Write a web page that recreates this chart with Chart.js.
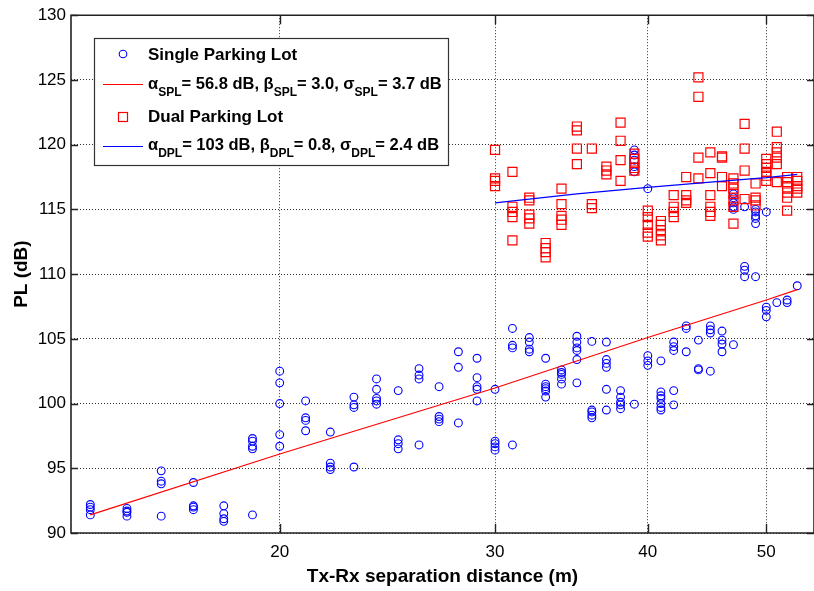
<!DOCTYPE html>
<html>
<head>
<meta charset="utf-8">
<title>Path loss vs. Tx-Rx separation distance</title>
<script src="https://cdn.jsdelivr.net/npm/chart.js@4.4.1/dist/chart.umd.min.js"></script>
<style>
  html, body { margin: 0; padding: 0; background: #ffffff; }
  #wrap { width: 814px; height: 591px; }
</style>
</head>
<body>
<div id="wrap"><canvas id="plChart" width="814" height="591"></canvas></div>
<script>
// Single parking lot: measured path loss (dB), grouped by Tx-Rx distance (m)
const singleDistances = [14, 15, 16, 17, 18, 19, 20, 21, 22, 23, 24, 25, 26, 27, 28, 29, 30,
  31, 32, 33, 34, 35, 36, 37, 38, 39, 40, 41, 42, 43, 44, 45, 46, 47, 48, 49, 50, 51, 52, 53];
const singleLoss = [
  [92.2, 92.0, 91.8, 91.4],
  [91.9, 91.7, 91.6, 91.3],
  [94.8, 94.0, 93.8, 91.3],
  [93.9, 92.1, 92.0, 91.8],
  [92.1, 91.5, 91.1, 90.9],
  [97.3, 97.1, 96.7, 96.5, 91.4],
  [102.5, 101.6, 100.0, 97.6, 96.7],
  [100.2, 98.9, 98.7, 97.9],
  [97.8, 95.4, 95.1, 94.9],
  [100.5, 99.9, 99.7, 95.1],
  [101.9, 101.1, 100.4, 100.2, 99.95],
  [101.0, 97.2, 96.9, 96.5],
  [102.7, 102.2, 101.9, 96.8],
  [101.3, 99.0, 98.8, 98.6],
  [104.0, 102.8, 98.5],
  [103.5, 102.0, 101.3, 101.1, 100.2],
  [101.1, 97.1, 96.9, 96.65, 96.4],
  [105.8, 104.5, 104.3, 96.8],
  [105.1, 104.75, 104.2, 104.0],
  [103.5, 101.5, 101.3, 101.15, 100.97, 100.5],
  [102.6, 102.4, 102.25, 101.9, 101.5],
  [105.2, 104.75, 104.3, 104.1, 103.4, 101.6],
  [104.8, 99.5, 99.35, 99.1, 98.9],
  [104.75, 103.4, 103.1, 102.8, 101.1, 99.5],
  [101.0, 100.5, 100.1, 99.9, 99.6],
  [99.95, 119.6, 119.2, 118.8, 118.3, 117.9],
  [103.7, 103.3, 102.95, 116.6],
  [103.3, 100.9, 100.6, 100.4, 100.0, 99.7, 99.5],
  [104.75, 104.4, 104.1, 101.0, 99.9],
  [106.0, 105.8, 104.0],
  [104.9, 102.7, 102.6],
  [106.0, 105.7, 105.45, 102.5],
  [105.6, 104.9, 104.6, 104.0],
  [104.55, 116.2, 115.9, 115.5, 115.2, 115.0],
  [110.6, 110.3, 109.8, 115.2],
  [109.8, 115.0, 114.8, 114.5, 114.3, 113.9],
  [107.45, 107.2, 106.7, 114.8],
  [107.8],
  [108.0, 107.8],
  [109.1]
];

// Dual parking lot: measured path loss (dB), grouped by Tx-Rx distance (m)
const dualDistances = [30, 31, 32, 33, 34, 35, 36, 37, 38, 39, 40, 41,
  42, 43, 44, 45, 46, 47, 48, 49, 50, 51, 52, 53];
const dualLoss = [
  [119.6, 117.4, 117.2, 116.8],
  [117.9, 115.2, 114.8, 114.4, 112.6],
  [115.9, 115.7, 114.6, 114.3, 113.9],
  [112.4, 112.0, 111.7, 111.3],
  [116.6, 115.4, 114.5, 114.2, 113.8],
  [121.4, 121.1, 119.7, 118.5],
  [119.7, 115.4, 115.1],
  [118.3, 118.0, 117.7],
  [121.7, 120.3, 118.8, 117.2],
  [119.3, 118.9, 118.6, 118.2, 118.0],
  [114.9, 114.4, 113.8, 113.2, 112.9],
  [114.1, 113.8, 113.4, 113.0, 112.6],
  [116.1, 115.2, 114.8, 114.4],
  [117.5, 116.1, 115.7, 115.5],
  [125.2, 123.7, 119.0, 117.4],
  [119.4, 117.8, 116.1, 115.2, 114.8, 114.5],
  [119.1, 119.0, 117.5, 116.8],
  [117.4, 117.0, 116.6, 116.2, 115.7, 115.2, 113.9],
  [121.6, 119.7, 118.0, 115.8],
  [117.0, 115.9, 115.7, 115.3],
  [118.9, 118.5, 118.2, 117.9, 117.6, 117.2],
  [121.0, 119.8, 119.4, 119.0, 118.5, 117.1],
  [117.5, 117.1, 116.7, 116.3, 115.9, 114.9],
  [117.5, 117.2, 116.8, 116.6, 116.3]
];

// Fitted path-loss lines
const splFitDistances = [14, 20, 30, 40, 50, 53];
const splFitLoss = [91.4, 96.1, 101.2, 105.1, 108.0, 108.8];
const dplFitDistances = [30, 35, 40, 45, 50, 53];
const dplFitLoss = [115.5, 116.2, 116.7, 117.1, 117.45, 117.7];

// Axes
const xTicks = [20, 30, 40, 50];
const yTicks = [90, 95, 100, 105, 110, 115, 120, 125, 130];

// Legend text
const seriesNames = ['Single Parking Lot', 'Dual Parking Lot'];
const fitSymbols = ['α', 'β', 'σ'];
const splSub = 'SPL';
const dplSub = 'DPL';
const splFitValues = ['56.8 dB', '3.0', '3.7 dB'];
const dplFitValues = ['103 dB', '0.8', '2.4 dB'];

const BLUE = 'rgb(0,0,255)';
const RED = 'rgb(255,0,0)';
const FONT = '"Liberation Sans", Arial, Helvetica, sans-serif';

function toPoints(distances, loss) {
  return distances.flatMap((d, i) => loss[i].map(v => ({ x: d, y: v })));
}
function toLine(distances, loss) {
  return distances.map((d, i) => ({ x: d, y: loss[i] }));
}

// Fit caption as text runs: [text, isSubscript]
function fitRuns(sub, values) {
  const runs = [];
  fitSymbols.forEach((s, i) => {
    runs.push([s, false]);
    runs.push([sub, true]);
    runs.push(['= ' + values[i] + (i < fitSymbols.length - 1 ? ', ' : ''), false]);
  });
  return runs;
}

function drawRuns(ctx, runs, x, y, mainFont, subFont) {
  ctx.fillStyle = '#000';
  let cx = x;
  runs.forEach(([t, isSub]) => {
    ctx.font = isSub ? subFont : mainFont;
    ctx.fillText(t, cx, isSub ? y + 7 : y);
    cx += ctx.measureText(t).width;
  });
}

// Frame, inward tick marks and the boxed legend
const framePlugin = {
  id: 'frameAndLegend',
  afterDraw(chart) {
    const { ctx, chartArea: a, scales } = chart;
    const xs = scales.x, ys = scales.y;
    ctx.save();

    // box
    ctx.strokeStyle = '#222';
    ctx.lineWidth = 1.6;
    ctx.beginPath();
    ctx.moveTo(a.left, a.top); ctx.lineTo(a.right, a.top);
    ctx.lineTo(a.right, a.bottom); ctx.lineTo(a.left, a.bottom);
    ctx.closePath();
    ctx.stroke();

    // inward ticks
    ctx.lineWidth = 1.4;
    ctx.beginPath();
    xTicks.forEach(v => {
      const px = Math.round(xs.getPixelForValue(v)) + 0.5;
      ctx.moveTo(px, a.bottom); ctx.lineTo(px, a.bottom - 9);
      ctx.moveTo(px, a.top); ctx.lineTo(px, a.top + 9);
    });
    yTicks.forEach(v => {
      const py = Math.round(ys.getPixelForValue(v)) + 0.5;
      ctx.moveTo(a.left, py); ctx.lineTo(a.left + 7, py);
      ctx.moveTo(a.right, py); ctx.lineTo(a.right - 7, py);
    });
    ctx.stroke();

    // legend box
    const bx = 94.5, by = 38.5, bw = 354, bh = 127;
    ctx.fillStyle = '#fff';
    ctx.fillRect(bx, by, bw, bh);
    ctx.strokeStyle = '#333';
    ctx.lineWidth = 1.2;
    ctx.strokeRect(bx, by, bw, bh);

    const markX = 123, textX = 148;
    const nameFont = 'bold 17px ' + FONT;
    const mainFont = 'bold 16.5px ' + FONT;
    const subFont = 'bold 12px ' + FONT;
    ctx.textBaseline = 'alphabetic';
    ctx.textAlign = 'left';
    ctx.fillStyle = '#000';

    // row 1: circle marker
    ctx.strokeStyle = BLUE; ctx.lineWidth = 1.1;
    ctx.beginPath(); ctx.arc(markX, 54, 3.8, 0, Math.PI * 2); ctx.stroke();
    ctx.font = nameFont;
    ctx.fillText(chart.data.datasets[0].label, textX, 60);

    // row 2: red fit line
    ctx.strokeStyle = RED; ctx.lineWidth = 1.2;
    ctx.beginPath(); ctx.moveTo(103, 84.5); ctx.lineTo(143, 84.5); ctx.stroke();
    drawRuns(ctx, fitRuns(splSub, splFitValues), textX, 89, mainFont, subFont);

    // row 3: square marker
    ctx.strokeStyle = RED; ctx.lineWidth = 1.2;
    ctx.strokeRect(markX - 4.5, 112.5, 9, 9);
    ctx.font = nameFont; ctx.fillStyle = '#000';
    ctx.fillText(chart.data.datasets[2].label, textX, 122);

    // row 4: blue fit line
    ctx.strokeStyle = BLUE; ctx.lineWidth = 1.2;
    ctx.beginPath(); ctx.moveTo(103, 146.5); ctx.lineTo(143, 146.5); ctx.stroke();
    drawRuns(ctx, fitRuns(dplSub, dplFitValues), textX, 150, mainFont, subFont);

    ctx.restore();
  }
};

const tickFont = { family: FONT, size: 17 };

new Chart(document.getElementById('plChart'), {
  type: 'scatter',
  data: {
    datasets: [
      {
        label: seriesNames[0],
        data: toPoints(singleDistances, singleLoss),
        pointStyle: 'circle',
        pointRadius: 3.9,
        borderWidth: 1.1,
        borderColor: BLUE,
        backgroundColor: 'rgba(0,0,0,0)',
        order: 4
      },
      {
        label: 'SPL fit',
        data: toLine(splFitDistances, splFitLoss),
        showLine: true,
        pointRadius: 0,
        borderWidth: 1.2,
        borderColor: RED,
        order: 3
      },
      {
        label: seriesNames[1],
        data: toPoints(dualDistances, dualLoss),
        pointStyle: 'rect',
        pointRadius: 6.4,
        borderWidth: 1.2,
        borderColor: RED,
        backgroundColor: 'rgba(0,0,0,0)',
        order: 2
      },
      {
        label: 'DPL fit',
        data: toLine(dplFitDistances, dplFitLoss),
        showLine: true,
        pointRadius: 0,
        borderWidth: 1.3,
        borderColor: BLUE,
        order: 1
      }
    ]
  },
  options: {
    responsive: false,
    animation: false,
    events: [],
    layout: { autoPadding: false, padding: { left: 0, right: 0, top: 13, bottom: 0 } },
    plugins: {
      legend: { display: false },
      tooltip: { enabled: false }
    },
    scales: {
      x: {
        type: 'logarithmic',
        min: 13.5,
        max: 54.7,
        afterBuildTicks: s => { s.ticks = xTicks.map(v => ({ value: v })); },
        afterFit: s => { s.height = 58; },
        ticks: {
          color: '#000',
          font: tickFont,
          padding: 9,
          maxRotation: 0,
          autoSkip: false,
          callback: v => String(v)
        },
        grid: { color: '#333', lineWidth: 1, drawTicks: false },
        border: { display: false, dash: [1, 2] },
        title: {
          display: true,
          text: 'Tx-Rx separation distance (m)',
          color: '#000',
          font: { family: FONT, size: 19, weight: 'bold' },
          padding: { top: 4, bottom: 3 }
        }
      },
      y: {
        min: 90,
        max: 130,
        afterBuildTicks: s => { s.ticks = yTicks.map(v => ({ value: v })); },
        afterFit: s => { s.width = 71; },
        ticks: {
          color: '#000',
          font: tickFont,
          padding: 5,
          callback: v => String(v)
        },
        grid: { color: '#333', lineWidth: 1, drawTicks: false },
        border: { display: false, dash: [1, 2] },
        title: {
          display: true,
          text: 'PL (dB)',
          color: '#000',
          font: { family: FONT, size: 19, weight: 'bold' },
          padding: { top: 10, bottom: 4 }
        }
      }
    }
  },
  plugins: [framePlugin]
});
</script>
</body>
</html>
